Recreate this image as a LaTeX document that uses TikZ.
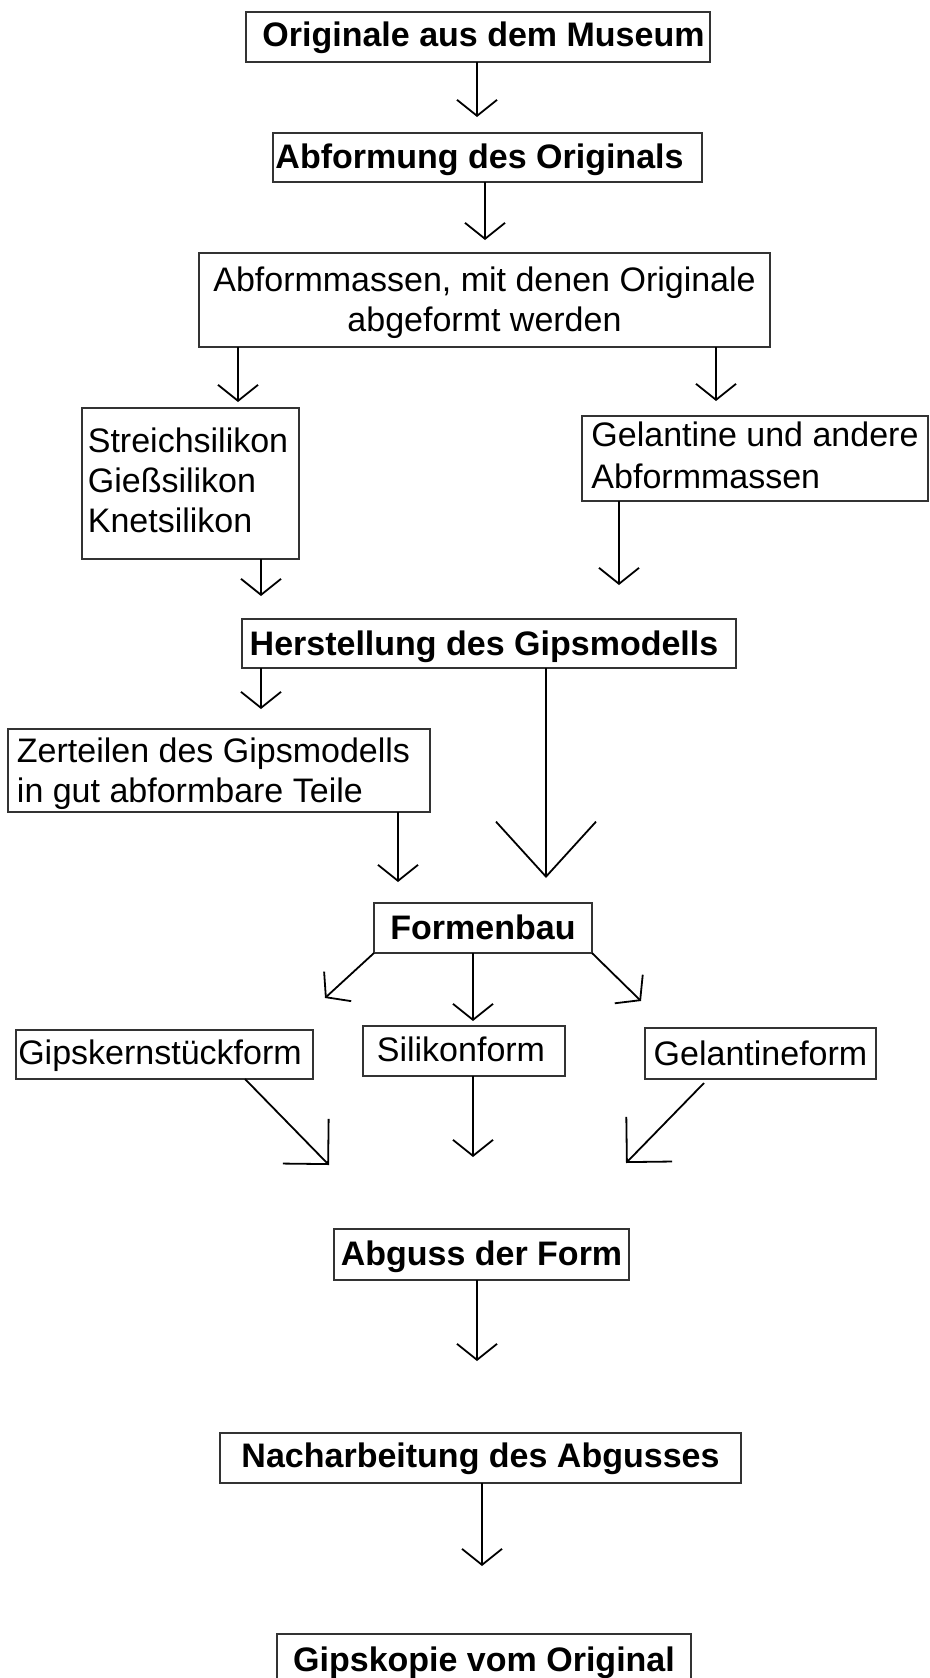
\documentclass[tikz,border=0pt]{standalone}
\usepackage{fontspec}
\setmainfont{Liberation Sans}
\usetikzlibrary{arrows.meta,calc}
\begin{document}
\begin{tikzpicture}[x=1pt,y=-1pt,
  bx/.style={draw=black!80,line width=1.1pt,inner sep=0pt,outer sep=0pt,text depth=0pt,font=\fontsize{34}{40}\selectfont},
  bbx/.style={bx,font=\fontsize{34}{40}\selectfont\bfseries},
  arr/.style={line width=1.8pt,-{Straight Barb[length=16pt,width=40pt]}},
  arrM/.style={line width=1.8pt,-{Straight Barb[length=32pt,width=64pt]}},
  arrL/.style={line width=1.8pt,-{Straight Barb[length=55pt,width=100pt]}}
]
\useasboundingbox (0,0) rectangle (929,1678);

% boxes
\node[bbx,minimum width=464pt,minimum height=50pt,text height=20pt] (b1) at (478,37) {\hspace*{11pt}Originale aus dem Museum};
\node[bbx,minimum width=429pt,minimum height=49pt,text height=21pt] (b2) at (487.5,157.5) {Abformung des Originals\hspace*{16pt}};
\node[bx,minimum width=571pt,minimum height=94pt,text height=30pt,text depth=48pt] (b3) at (484.5,300) {\begin{tabular}[t]{@{}c@{}}Abformmassen, mit denen Originale\\abgeformt werden\end{tabular}};
\node[bx,minimum width=217pt,minimum height=151pt,text height=25pt,text depth=88pt] (b4) at (190.5,483.5) {\begin{tabular}[t]{@{}l@{}}Streichsilikon\\Gießsilikon\\Knetsilikon\end{tabular}\hspace*{5pt}};
\node[bx,minimum width=346pt,minimum height=85pt,text height=17pt,text depth=42pt] (b5) at (755,458.5) {\begin{tabular}[t]{@{}l@{}}Gelantine und andere\\[2pt]Abformmassen\end{tabular}};
\node[bbx,minimum width=494pt,minimum height=49pt,text height=23pt] (b6) at (489,643.5) {Herstellung des Gipsmodells\hspace*{10pt}};
\node[bx,minimum width=422pt,minimum height=83pt,text height=30pt,text depth=47pt] (b7) at (219,770.5) {\begin{tabular}[t]{@{}l@{}}Zerteilen des Gipsmodells\\in gut abformbare Teile\end{tabular}\hspace*{11pt}};
\node[bbx,minimum width=218pt,minimum height=50pt,text height=22pt] (b8) at (483,928) {Formenbau};
\node[bx,minimum width=297pt,minimum height=49pt,text height=19pt] (b9) at (164.5,1054.5) {Gipskernstückform\hspace*{9pt}};
\node[bx,minimum width=202pt,minimum height=50pt,text height=20pt] (b10) at (464,1051) {Silikonform\hspace*{6pt}};
\node[bx,minimum width=231pt,minimum height=51pt,text height=23pt] (b11) at (760.5,1053.5) {Gelantineform};
\node[bbx,minimum width=295pt,minimum height=51pt,text height=21pt] (b12) at (481.5,1254.5) {Abguss der Form};
\node[bbx,minimum width=521pt,minimum height=50pt,text height=18pt] (b13) at (480.5,1458) {Nacharbeitung des Abgusses};
\node[bbx,minimum width=414pt,minimum height=56pt,text height=18pt] (b14) at (484,1662) {Gipskopie vom Original};

% arrow tips
\coordinate (t1) at (477,117);
\coordinate (t2) at (485,240);
\coordinate (t3) at (238,402);
\coordinate (t4) at (716,401);
\coordinate (t5) at (261,596);
\coordinate (t6) at (619,585);
\coordinate (t7) at (261,709);
\coordinate (t8) at (546,878);
\coordinate (t9) at (398,882);
\coordinate (t10) at (325,998);
\coordinate (t11) at (473,1021);
\coordinate (t12) at (641,1001);
\coordinate (t13) at (329,1165);
\coordinate (t14) at (473,1157);
\coordinate (t15) at (626,1163);
\coordinate (t16) at (477,1361);
\coordinate (t17) at (482,1566);

% connectors
\draw[arr] (t1 |- b1.south) -- (t1);
\draw[arr] (t2 |- b2.south) -- (t2);
\draw[arr] (t3 |- b3.south) -- (t3);
\draw[arr] (t4 |- b3.south) -- (t4);
\draw[arr] (t5 |- b4.south) -- (t5);
\draw[arr] (t6 |- b5.south) -- (t6);
\draw[arr] (t7 |- b6.south) -- (t7);
\draw[arrL] (t8 |- b6.south) -- (t8);
\draw[arr] (t9 |- b7.south) -- (t9);
\draw[arr] (b8.south west) -- (t10);
\draw[arr] (t11 |- b8.south) -- (t11);
\draw[arr] (b8.south east) -- (t12);
\draw[arrM] ($(b9.south west)+(229,0)$) -- (t13);
\draw[arr] (t14 |- b10.south) -- (t14);
\draw[arrM] ($(b11.south west)+(59,4)$) -- (t15);
\draw[arr] (t16 |- b12.south) -- (t16);
\draw[arr] (t17 |- b13.south) -- (t17);
\end{tikzpicture}
\end{document}
